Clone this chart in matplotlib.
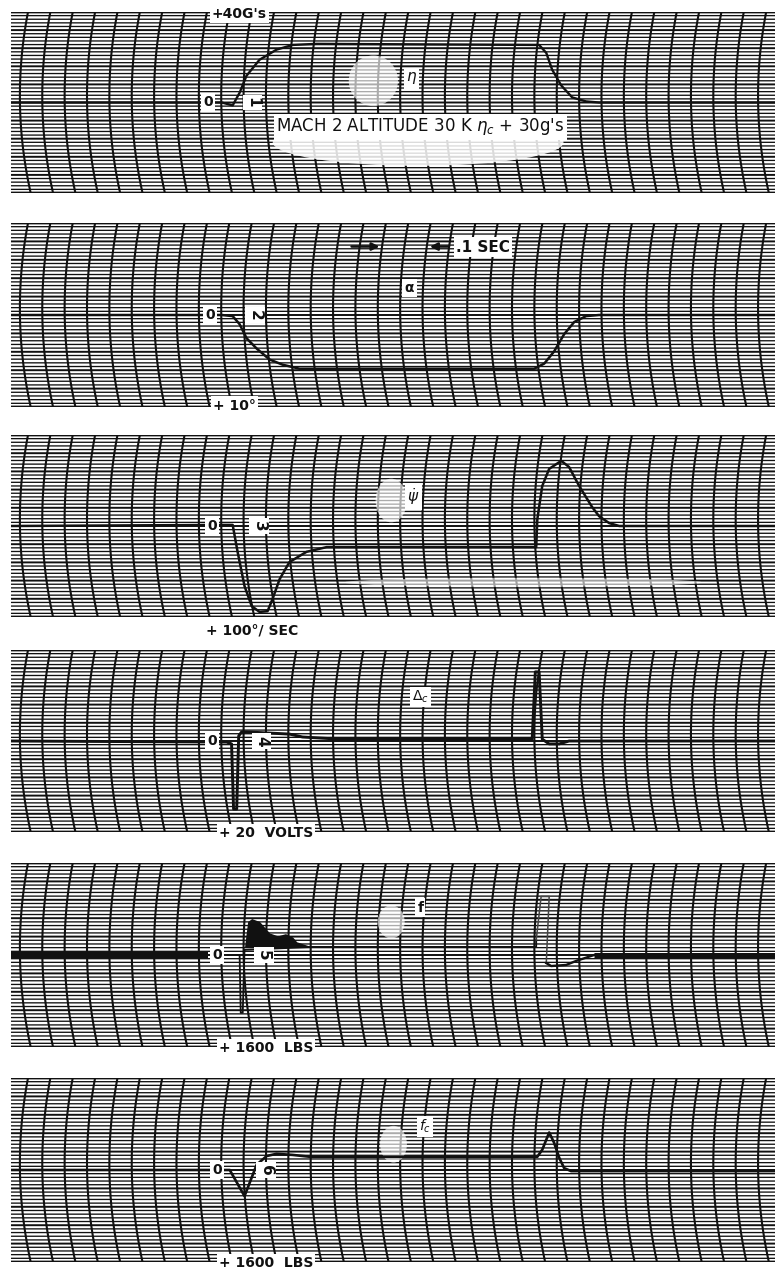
import numpy as np
import matplotlib
matplotlib.use("Agg")
import matplotlib.pyplot as plt
from matplotlib.patches import Ellipse

# x = chart divisions (curved time lines), y = minor divisions from the zero line
ETA_X = [-0.4, 9.02, 9.51, 9.82, 10.13, 10.71, 11.47, 12.19, 13.26, 23.21, 23.53,
         23.79, 24.20, 24.69, 25.31, 25.89, 33.8]
ETA_Y = [0, 0, -0.8, 2.7, 7.4, 11.8, 14.6, 15.9, 16.2, 15.9, 13.7,
         9.1, 4.7, 1.4, 0.3, 0, 0]

ALPHA_X = [-0.4, 9.02, 9.51, 9.82, 10.13, 10.58, 11.16, 11.74, 12.5, 22.99, 23.44,
           23.88, 24.33, 24.78, 25.31, 25.89, 33.8]
ALPHA_Y = [0, 0, -0.3, -2.5, -6.3, -9.1, -12.1, -13.5, -14.6, -14.6, -13.2,
           -9.9, -5.2, -1.9, -0.3, 0, 0]

PSI_X = [-0.4, 9.06, 9.51, 9.73, 10.04, 10.36, 10.71, 11.07, 11.29, 11.61, 12.05,
         12.81, 13.71, 14.73, 23.08, 23.13, 23.35, 23.66, 24.20, 24.55, 25.0,
         25.58, 25.89, 26.34, 26.79, 33.8]
PSI_Y = [0, 0.3, 0.3, -7.1, -16.5, -22.0, -23.6, -23.4, -20.1, -14.6, -9.9,
         -7.1, -5.8, -5.8, -5.8, 1.9, 11.0, 15.7, 17.9, 16.2, 11.0,
         5.2, 2.7, 0.8, 0, 0]

DELTA_X = [-0.4, 9.24, 9.46, 9.55, 9.69, 9.78, 9.91, 10.13, 12.05, 12.63, 14.29,
           22.9, 23.04, 23.21, 23.35, 23.66, 24.11, 24.55, 33.8]
DELTA_Y = [0, -0.3, -0.8, -18.7, -18.7, 1.4, 2.5, 2.5, 1.9, 1.1, 0.5,
           0.5, 19.0, 19.0, 0.5, -0.8, -0.8, 0, 0]

F_X = [9.29, 9.82, 9.87, 9.96, 10.04, 13.08, 23.08, 23.08]
F_Y = [0, 0, -15.7, -15.7, 1.4, 2.2, 2.2, 4.1]
F_KICK_X = [23.08, 23.30, 23.66, 23.53]
F_KICK_Y = [4.1, 15.9, 15.9, -2.2]
F_TAIL_X = [23.53, 23.75, 24.42, 24.87, 25.67, 33.8]
F_TAIL_Y = [-2.2, -3.0, -2.7, -1.6, 0, 0]
F_BUZZ_X = [10.04, 10.18, 10.36, 10.71, 11.16, 11.52, 11.87, 12.19, 12.37, 12.81, 13.08]
F_BUZZ_TOP = [2.2, 9.1, 9.9, 9.1, 6.0, 5.2, 5.8, 4.9, 3.6, 2.7, 2.2]
F_LEVEL = 2.2

FC_X = [-0.4, 8.93, 9.38, 10.04, 10.58, 11.03, 11.47, 12.19, 12.95, 23.13, 23.35,
        23.66, 23.88, 24.11, 24.33, 24.64, 25.89, 33.8]
FC_Y = [0, 0, 0, -7.1, 1.4, 3.8, 4.4, 4.1, 3.6, 3.6, 5.5,
        10.2, 7.4, 3.3, 0.5, -0.3, -0.3, -0.3]

INK = '#111111'
W, H = 775, 1272
LEFT, RIGHT = 11, 776
# pixel top / bottom of each strip
STRIPS = [(12, 193), (223, 407), (435, 617), (650, 832), (863, 1047), (1078, 1262)]

plt.rcParams['font.family'] = ['DejaVu Sans']
fig = plt.figure(figsize=(W / 100, H / 100), dpi=100)
fig.patch.set_facecolor('white')

box = dict(boxstyle='square,pad=0.15', fc='white', ec='none')


def strip(top, bottom):
    ax = fig.add_axes([LEFT / W, 1 - bottom / H, (RIGHT - LEFT) / W, (bottom - top) / H])
    ax.set_xlim(-0.4, 33.8)
    ax.set_ylim(-25, 25)
    ax.axis('off')
    ys = np.linspace(-25, 25, 80)
    for k in range(-1, 36):
        ax.plot(k + 0.42 * (ys / 25) ** 2 - 0.06 * ys / 25, ys, color=INK, lw=1.5,
                zorder=1, snap=False)
    for j in range(-25, 26):
        lw = 2.0 if abs(j) == 25 else (1.4 if j % 5 == 0 else 0.95)
        ax.plot([-0.4, 33.8], [j, j], color=INK, lw=lw, zorder=1, snap=False,
                solid_capstyle='butt')
    return ax


def lab(ax, x, y, s, size=10, rot=0, weight='bold', **kw):
    ax.text(x, y, s, fontsize=size, rotation=rot, fontweight=weight, ha='center',
            va='center', color=INK, bbox=box, zorder=6, clip_on=False, **kw)


def blot(ax, x, y, w, h, a=0.8):
    ax.add_patch(Ellipse((x, y), w, h, fc='white', ec='none', alpha=a, zorder=2))


axes = [strip(t, b) for t, b in STRIPS]

# 1: normal acceleration
ax = axes[0]
blot(ax, 17.8, -11, 13, 13, 0.85)
blot(ax, 15.8, 6, 2.2, 14, 0.65)
ax.plot(ETA_X, ETA_Y, color=INK, lw=1.7, zorder=4)
lab(ax, 8.4, 0, '0')
lab(ax, 10.4, 0, '1', size=11, rot=-90)
lab(ax, 17.5, 6.7, r'$\eta$', size=11)
lab(ax, 17.9, -6.7, "MACH 2 ALTITUDE 30 K $\\eta_c$ + 30g's", size=12, weight='normal')
lab(ax, 9.8, 24.4, "+40G's", size=10)

# 2: angle of attack
ax = axes[1]
ax.plot(ALPHA_X, ALPHA_Y, color=INK, lw=1.8, zorder=4)
ax.annotate('', xy=(16.2, 18.6), xytext=(14.7, 18.6),
            arrowprops=dict(arrowstyle='-|>', color=INK, lw=1.8, mutation_scale=11), zorder=5)
ax.annotate('', xy=(18.2, 18.6), xytext=(19.3, 18.6),
            arrowprops=dict(arrowstyle='-|>', color=INK, lw=1.8, mutation_scale=11), zorder=5)
lab(ax, 8.5, 0, '0')
lab(ax, 10.5, 0, '2', size=11, rot=-90)
lab(ax, 17.4, 7.4, r'$\mathbf{\alpha}$', size=10)
lab(ax, 20.7, 18.4, '.1 SEC', size=11)
lab(ax, 9.6, -24.6, '+ 10°', size=10)

# 3: pitch rate
ax = axes[2]
blot(ax, 16.6, 7, 1.4, 12, 0.65)
blot(ax, 22.5, -15.5, 16, 2.5, 0.6)
ax.plot(PSI_X, PSI_Y, color=INK, lw=1.8, zorder=4)
lab(ax, 8.6, 0, '0')
lab(ax, 10.7, 0, '3', size=11, rot=-90)
lab(ax, 17.6, 8.0, r'$\dot{\psi}$', size=11)
lab(ax, 10.4, -28.6, '+ 100°/ SEC', size=10)

# 4: command voltage
ax = axes[3]
ax.plot(DELTA_X, DELTA_Y, color=INK, lw=2.1, zorder=4)
lab(ax, 8.6, 0, '0')
lab(ax, 10.8, 0, '4', size=11, rot=-90)
lab(ax, 17.9, 12.1, r'$\Delta_c$', size=10)
lab(ax, 11.0, -25.2, '+ 20  VOLTS', size=10)

# 5: fin force
ax = axes[4]
blot(ax, 16.6, 9, 1.2, 9, 0.65)
ax.plot([-0.4, 8.4], [0, 0], color=INK, lw=4.5, zorder=4, solid_capstyle='butt')
ax.plot(F_X, F_Y, color=INK, lw=1.3, zorder=4)
ax.plot(F_KICK_X, F_KICK_Y, color='#444444', lw=1.1, zorder=4)
ax.plot(F_TAIL_X, F_TAIL_Y, color=INK, lw=1.7, zorder=4)
ax.plot(F_TAIL_X[-2:], F_TAIL_Y[-2:], color=INK, lw=3.6, zorder=4, solid_capstyle='butt')
ax.fill_between(F_BUZZ_X, F_LEVEL, F_BUZZ_TOP, color=INK, lw=0, zorder=4)
lab(ax, 8.8, 0, '0')
lab(ax, 10.9, 0, '5', size=11, rot=-90)
lab(ax, 17.9, 12.9, 'f', size=10)
lab(ax, 11.0, -25.2, '+ 1600  LBS', size=10)

# 6: commanded fin force
ax = axes[5]
blot(ax, 16.7, 7, 1.2, 10, 0.65)
ax.plot(FC_X, FC_Y, color=INK, lw=1.9, zorder=4)
lab(ax, 8.8, 0, '0')
lab(ax, 11.0, 0, '6', size=11, rot=-90)
lab(ax, 18.1, 11.8, r'$f_c$', size=10)
lab(ax, 11.0, -25.2, '+ 1600  LBS', size=10)

fig.savefig('out.png', dpi=100, facecolor='white')
